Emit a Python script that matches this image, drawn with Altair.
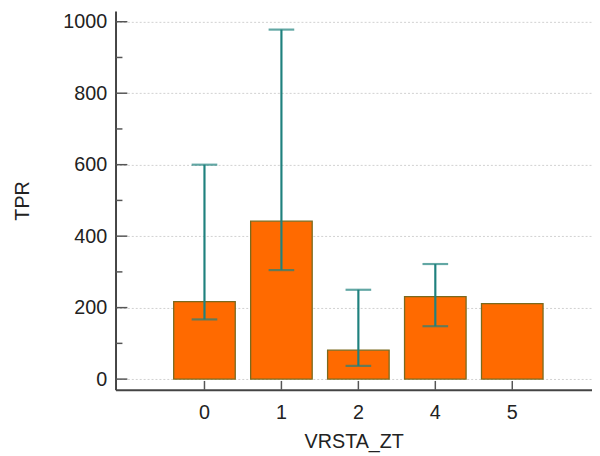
import altair as alt
import pandas as pd

categories = ["0", "1", "2", "4", "5"]
tpr = [217, 442, 81, 231, 211]
err_lo = [167, 305, 37, 148, None]
err_hi = [600, 978, 250, 322, None]

y_major = [0, 200, 400, 600, 800, 1000]
y_minor = [100, 300, 500, 700, 900]

df = pd.DataFrame({"VRSTA_ZT": categories, "TPR": tpr, "lo": err_lo, "hi": err_hi})
df_err = df.dropna()
df_major = pd.DataFrame({"v": y_major})
df_minor = pd.DataFrame({"v": y_minor})
df_cat = pd.DataFrame({"VRSTA_ZT": categories})

W, H = 483, 384
FONT = "Liberation Sans"
TEAL = "#1f817e"

xscale = alt.Scale(domain=categories, paddingInner=0.2, paddingOuter=0.696, align=0.543)
yscale = alt.Scale(domain=[-30, 1030], nice=False, zero=False)

bars = alt.Chart(df).mark_bar(color="#FF6A00", stroke="#7a6a1e", strokeWidth=1.3).encode(
    x=alt.X("VRSTA_ZT:N", scale=xscale, sort=categories,
            axis=alt.Axis(title="VRSTA_ZT", labelAngle=0, ticks=False, grid=False,
                          labelPadding=13, titlePadding=9)),
    y=alt.Y("TPR:Q", scale=yscale,
            axis=alt.Axis(title="TPR", values=y_major, format="d", ticks=False, grid=True,
                          labelPadding=9, titlePadding=31)),
    y2=alt.datum(0),
)

err_rule = alt.Chart(df_err).mark_rule(color=TEAL, strokeWidth=2.2).encode(
    x=alt.X("VRSTA_ZT:N", scale=xscale, sort=categories),
    y=alt.Y("lo:Q", scale=yscale),
    y2="hi:Q",
)
cap_hi = alt.Chart(df_err).mark_tick(color=TEAL, size=26, thickness=2.2, orient="horizontal").encode(
    x=alt.X("VRSTA_ZT:N", scale=xscale, sort=categories),
    y=alt.Y("hi:Q", scale=yscale),
)
cap_lo = alt.Chart(df_err).mark_tick(color=TEAL, size=26, thickness=2.2, orient="horizontal").encode(
    x=alt.X("VRSTA_ZT:N", scale=xscale, sort=categories),
    y=alt.Y("lo:Q", scale=yscale),
)

ymaj = alt.Chart(df_major).mark_rule(color="#555555", strokeWidth=1.5).encode(
    y=alt.Y("v:Q", scale=yscale),
    x=alt.value(0), x2=alt.value(12),
)
ymin = alt.Chart(df_minor).mark_rule(color="#555555", strokeWidth=1.5).encode(
    y=alt.Y("v:Q", scale=yscale),
    x=alt.value(0), x2=alt.value(7),
)
xt = alt.Chart(df_cat).mark_rule(color="#555555", strokeWidth=1.5).encode(
    x=alt.X("VRSTA_ZT:N", scale=xscale, sort=categories),
    y=alt.value(H), y2=alt.value(H - 9),
)

chart = alt.layer(bars, err_rule, cap_hi, cap_lo, ymaj, ymin, xt).properties(
    width=W, height=H,
    autosize=alt.AutoSizeParams(type="none"),
    padding={"left": 109, "top": 0, "right": 0, "bottom": 62},
).configure_view(stroke=None).configure_axis(
    labelFont=FONT, titleFont=FONT, labelFontSize=20, titleFontSize=20,
    labelColor="#222222", titleColor="#222222", titleFontWeight="normal",
    domainColor="#444444", domainWidth=2,
    gridColor="#d0d0d0", gridDash=[2, 2], gridWidth=1,
)

chart.save("out.html", embed_options={"renderer": "svg", "actions": False})
